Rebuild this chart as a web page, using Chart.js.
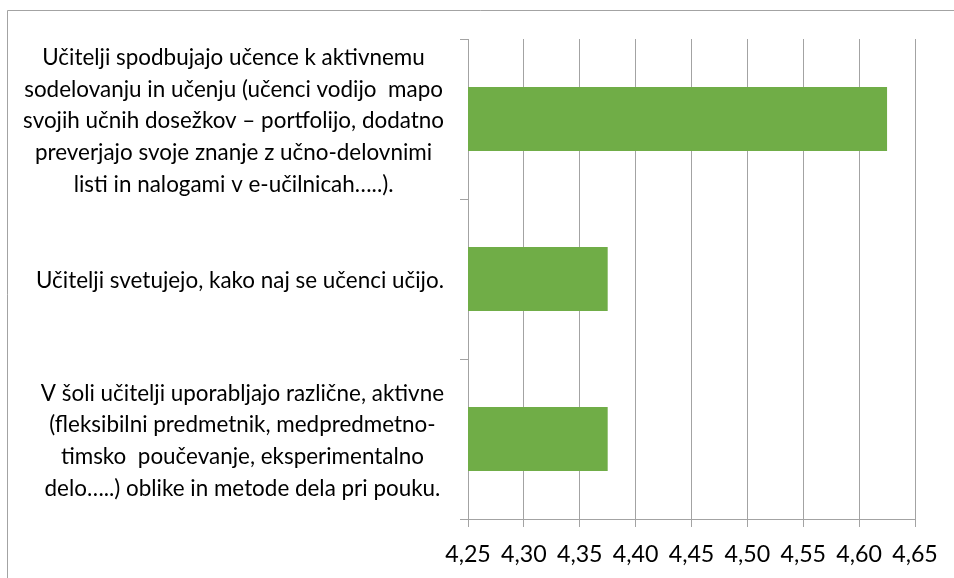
<!DOCTYPE html>
<html><head><meta charset="utf-8">
<script src="https://cdn.jsdelivr.net/npm/chart.js@4/dist/chart.umd.min.js"></script>
<style>html,body{margin:0;padding:0;background:#fff}#wrap{width:954px;height:578px;position:relative}</style>
</head><body><div id="wrap"><canvas id="c" width="954" height="578"></canvas></div>
<script>
const categories = [
  ["Učitelji spodbujajo učence k aktivnemu",
   "sodelovanju in učenju (učenci vodijo  mapo",
   "svojih učnih dosežkov – portfolijo, dodatno",
   "preverjajo svoje znanje z učno-delovnimi",
   "listi in nalogami v e-učilnicah…..)."],
  ["Učitelji svetujejo, kako naj se učenci učijo."],
  ["V šoli učitelji uporabljajo različne, aktivne",
   "(fleksibilni predmetnik, medpredmetno-",
   "timsko  poučevanje, eksperimentalno",
   "delo…..) oblike in metode dela pri pouku."]
];
const values = [4.625, 4.375, 4.375];
const xTickLabels = ["4,25","4,30","4,35","4,40","4,45","4,50","4,55","4,60","4,65"];
const xMin = 4.25, xMax = 4.65, xStep = 0.05;

const FONT = 'Lato';
const GRAY = '#a3a3a3';
function fitSize(text, target) {
  const c = document.createElement('canvas').getContext('2d');
  c.font = '100px ' + FONT;
  return 100 * target / c.measureText(text).width;
}
const catSize = fitSize(categories[0][1], 419);
const tickSize = fitSize(xTickLabels[0], 45.7);
const catLH = 31.7;
const labelRight = 444;
const labelDy = 2;

const framePlugin = {
  id: 'frame',
  beforeDraw(chart) {
    const ctx = chart.ctx;
    ctx.save();
    ctx.strokeStyle = GRAY; ctx.lineWidth = 1;
    ctx.beginPath();
    ctx.moveTo(7.5, chart.height); ctx.lineTo(7.5, 10.5); ctx.lineTo(chart.width, 10.5);
    ctx.stroke();
    ctx.restore();
  }
};
const catLabelPlugin = {
  id: 'catLabels',
  afterDraw(chart) {
    const ctx = chart.ctx, ys = chart.scales.y;
    ctx.save();
    ctx.font = catSize + 'px ' + FONT;
    ctx.fillStyle = '#000';
    ctx.textAlign = 'center';
    ctx.textBaseline = 'middle';
    categories.forEach((lines, i) => {
      const widest = Math.max(...lines.map(l => ctx.measureText(l).width));
      const cx = labelRight - widest / 2;
      const cy = ys.getPixelForTick(i) + labelDy;
      lines.forEach((l, j) => ctx.fillText(l, cx, cy + (j - (lines.length - 1) / 2) * catLH));
    });
    ctx.restore();
  }
};

new Chart(document.getElementById('c'), {
  type: 'bar',
  data: {
    labels: categories,
    datasets: [{ data: values, backgroundColor: '#70ad47', borderWidth: 0,
                 barPercentage: 0.4, categoryPercentage: 1.0 }]
  },
  options: {
    indexAxis: 'y',
    responsive: false,
    devicePixelRatio: 1,
    animation: false,
    layout: { padding: { top: 39, right: 39, left: 0, bottom: 0 } },
    plugins: { legend: { display: false }, tooltip: { enabled: false } },
    scales: {
      x: {
        min: xMin, max: xMax,
        ticks: { stepSize: xStep, color: '#000', padding: 14,
                 font: { family: FONT, size: tickSize },
                 callback: (v, i) => xTickLabels[i] },
        grid: { color: GRAY, tickLength: 8, drawTicks: true },
        border: { color: GRAY },
        afterFit(s) { s.height = 59; s.paddingLeft = 0; s.paddingRight = 0; }
      },
      y: {
        ticks: { display: false },
        grid: { drawOnChartArea: false, drawTicks: true, tickLength: 8, color: GRAY, offset: true },
        border: { color: GRAY },
        afterFit(s) { s.width = 468; s.paddingTop = 0; s.paddingBottom = 0; }
      }
    }
  },
  plugins: [framePlugin, catLabelPlugin]
});
</script>
</body></html>
